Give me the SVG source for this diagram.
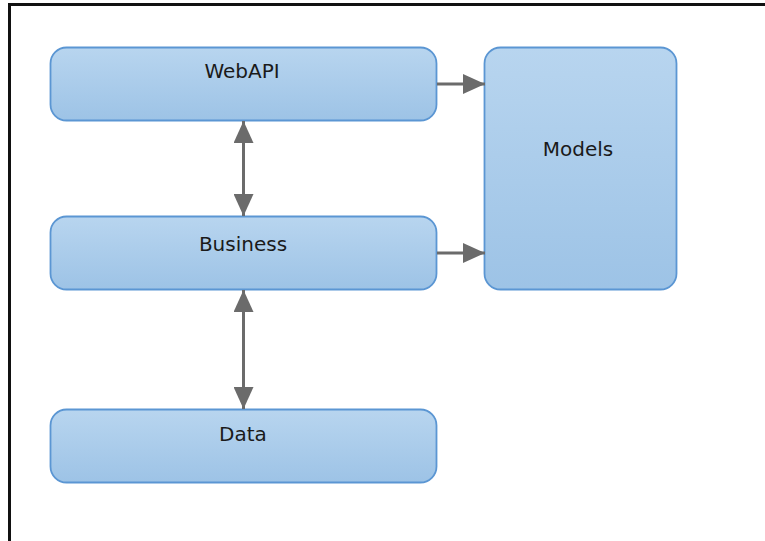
<svg xmlns="http://www.w3.org/2000/svg" width="765" height="541" viewBox="0 0 765 541">
  <defs>
    <linearGradient id="boxFill" x1="0" y1="0" x2="0" y2="1">
      <stop offset="0" stop-color="#b8d5ef"/>
      <stop offset="1" stop-color="#9dc3e6"/>
    </linearGradient>
    <marker id="head" viewBox="0 0 22 20" refX="22" refY="10" markerWidth="22" markerHeight="20" markerUnits="userSpaceOnUse" orient="auto-start-reverse">
      <path d="M0,0 L22,10 L0,20 Z" fill="#6b6b6b"/>
    </marker>
    <style>
      .box { fill: url(#boxFill); stroke: #5b96d3; stroke-width: 1.8; }
      .label { font-family: "DejaVu Sans", Verdana, sans-serif; font-size: 20px; fill: #1a1a1a; text-anchor: middle; }
      .conn { stroke: #6b6b6b; stroke-width: 3; fill: none; }
    </style>
  </defs>

  <rect width="765" height="541" fill="#ffffff"/>
  <!-- frame: top and left edges -->
  <path d="M9.5,541 V4.5 H765" fill="none" stroke="#111111" stroke-width="3"/>

  <g id="webapi">
    <rect class="box" x="50.5" y="47.5" width="386" height="73" rx="16"/>
    <text class="label" x="242" y="78">WebAPI</text>
  </g>
  <g id="business">
    <rect class="box" x="50.5" y="216.5" width="386" height="73" rx="16"/>
    <text class="label" x="243" y="251">Business</text>
  </g>
  <g id="data">
    <rect class="box" x="50.5" y="409.5" width="386" height="73" rx="16"/>
    <text class="label" x="243" y="441">Data</text>
  </g>
  <g id="models">
    <rect class="box" x="484.5" y="47.5" width="192" height="242" rx="16"/>
    <text class="label" x="578" y="156">Models</text>
  </g>

  <g id="connectors">
    <line class="conn" x1="243.5" y1="121" x2="243.5" y2="216" marker-start="url(#head)" marker-end="url(#head)"/>
    <line class="conn" x1="243.5" y1="290" x2="243.5" y2="409" marker-start="url(#head)" marker-end="url(#head)"/>
    <line class="conn" x1="437" y1="84" x2="485" y2="84" marker-end="url(#head)"/>
    <line class="conn" x1="437" y1="253" x2="485" y2="253" marker-end="url(#head)"/>
  </g>
</svg>
